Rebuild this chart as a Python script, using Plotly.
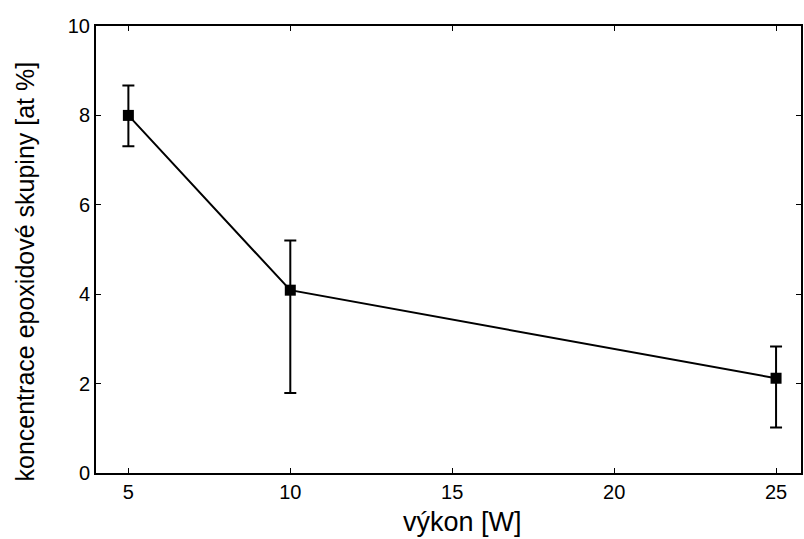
import plotly.graph_objects as go

power_w = [5, 10, 25]
conc = [8.0, 4.09, 2.12]
err_plus = [0.67, 1.11, 0.71]
err_minus = [0.69, 2.30, 1.10]

x_ticks = [5, 10, 15, 20, 25]
y_ticks = [0, 2, 4, 6, 8, 10]

FONT = "Liberation Sans, Arial, sans-serif"

fig = go.Figure()
fig.add_trace(go.Scatter(
    x=power_w, y=conc, mode="lines+markers",
    line=dict(color="black", width=2),
    marker=dict(symbol="square", size=11, color="black"),
    error_y=dict(type="data", symmetric=False, array=err_plus, arrayminus=err_minus,
                 color="black", thickness=2, width=6),
    showlegend=False,
))

tick_font = dict(family=FONT, size=20, color="black")
common = dict(ticks="inside", ticklen=5, tickwidth=1, tickcolor="black", showline=True,
              linecolor="black", linewidth=2, mirror="ticks", showgrid=False,
              zeroline=False, tickfont=tick_font)
fig.update_layout(
    width=804, height=539,
    margin=dict(l=96, r=1, t=26, b=66),
    paper_bgcolor="white", plot_bgcolor="white",
    font=dict(family=FONT, color="black"),
    xaxis=dict(range=[4, 25.77], tickvals=x_ticks, **common),
    yaxis=dict(range=[0, 10], tickvals=y_ticks, **common),
    annotations=[
        dict(text="výkon [W]", xref="paper", yref="paper", x=(464 - 96) / 707, y=-(522 - 472.7) / 447,
             xanchor="center", yanchor="middle", showarrow=False,
             font=dict(family=FONT, size=27, color="black")),
        dict(text="koncentrace epoxidové skupiny [at %]", xref="paper", yref="paper",
             x=-(96 - 25) / 707, y=(472.7 - 271) / 447, textangle=-90,
             xanchor="center", yanchor="middle", showarrow=False,
             font=dict(family=FONT, size=25, color="black")),
    ],
)
fig.write_html("out.html")
